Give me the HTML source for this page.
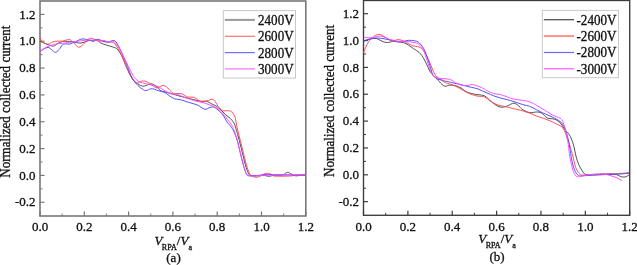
<!DOCTYPE html>
<html><head><meta charset="utf-8"><style>html,body{margin:0;padding:0;background:#fff;width:637px;height:265px;overflow:hidden}svg{display:block;filter:blur(0.35px)}</style></head><body>
<svg width="637" height="265" viewBox="0 0 637 265">
<style>text{stroke:#111;stroke-width:0.3px}.t{font-family:"Liberation Serif",serif;font-size:13px;fill:#111}.l{font-family:"Liberation Serif",serif;font-size:13.1px;fill:#111}.yl{font-family:"Liberation Serif",serif;font-size:13.05px;fill:#111}.xl{font-family:"Liberation Serif",serif;font-size:13px;fill:#111}</style>
<rect width="637" height="265" fill="#fff"/>
<rect x="40" y="1" width="265.8" height="215.0" fill="none" stroke="#777" stroke-width="1.6"/>
<line x1="40" y1="202.23" x2="44.5" y2="202.23" stroke="#777" stroke-width="1.2"/>
<text transform="translate(35.50,206.33) scale(1,1.0)" text-anchor="end" class="t">-0.2</text>
<line x1="40" y1="175.40" x2="44.5" y2="175.40" stroke="#777" stroke-width="1.2"/>
<text transform="translate(35.50,179.50) scale(1,1.0)" text-anchor="end" class="t">0.0</text>
<line x1="40" y1="148.57" x2="44.5" y2="148.57" stroke="#777" stroke-width="1.2"/>
<text transform="translate(35.50,152.67) scale(1,1.0)" text-anchor="end" class="t">0.2</text>
<line x1="40" y1="121.74" x2="44.5" y2="121.74" stroke="#777" stroke-width="1.2"/>
<text transform="translate(35.50,125.84) scale(1,1.0)" text-anchor="end" class="t">0.4</text>
<line x1="40" y1="94.91" x2="44.5" y2="94.91" stroke="#777" stroke-width="1.2"/>
<text transform="translate(35.50,99.01) scale(1,1.0)" text-anchor="end" class="t">0.6</text>
<line x1="40" y1="68.08" x2="44.5" y2="68.08" stroke="#777" stroke-width="1.2"/>
<text transform="translate(35.50,72.18) scale(1,1.0)" text-anchor="end" class="t">0.8</text>
<line x1="40" y1="41.25" x2="44.5" y2="41.25" stroke="#777" stroke-width="1.2"/>
<text transform="translate(35.50,45.35) scale(1,1.0)" text-anchor="end" class="t">1.0</text>
<line x1="40" y1="14.42" x2="44.5" y2="14.42" stroke="#777" stroke-width="1.2"/>
<text transform="translate(35.50,18.52) scale(1,1.0)" text-anchor="end" class="t">1.2</text>
<line x1="40" y1="188.82" x2="42.5" y2="188.82" stroke="#777" stroke-width="1"/>
<line x1="40" y1="161.99" x2="42.5" y2="161.99" stroke="#777" stroke-width="1"/>
<line x1="40" y1="135.16" x2="42.5" y2="135.16" stroke="#777" stroke-width="1"/>
<line x1="40" y1="108.33" x2="42.5" y2="108.33" stroke="#777" stroke-width="1"/>
<line x1="40" y1="81.50" x2="42.5" y2="81.50" stroke="#777" stroke-width="1"/>
<line x1="40" y1="54.67" x2="42.5" y2="54.67" stroke="#777" stroke-width="1"/>
<line x1="40" y1="27.84" x2="42.5" y2="27.84" stroke="#777" stroke-width="1"/>
<line x1="40.00" y1="216.0" x2="40.00" y2="211.5" stroke="#777" stroke-width="1.2"/>
<text transform="translate(40.00,231.30) scale(1,1.0)" text-anchor="middle" class="t">0.0</text>
<line x1="84.30" y1="216.0" x2="84.30" y2="211.5" stroke="#777" stroke-width="1.2"/>
<text transform="translate(84.30,231.30) scale(1,1.0)" text-anchor="middle" class="t">0.2</text>
<line x1="128.60" y1="216.0" x2="128.60" y2="211.5" stroke="#777" stroke-width="1.2"/>
<text transform="translate(128.60,231.30) scale(1,1.0)" text-anchor="middle" class="t">0.4</text>
<line x1="172.90" y1="216.0" x2="172.90" y2="211.5" stroke="#777" stroke-width="1.2"/>
<text transform="translate(172.90,231.30) scale(1,1.0)" text-anchor="middle" class="t">0.6</text>
<line x1="217.20" y1="216.0" x2="217.20" y2="211.5" stroke="#777" stroke-width="1.2"/>
<text transform="translate(217.20,231.30) scale(1,1.0)" text-anchor="middle" class="t">0.8</text>
<line x1="261.50" y1="216.0" x2="261.50" y2="211.5" stroke="#777" stroke-width="1.2"/>
<text transform="translate(261.50,231.30) scale(1,1.0)" text-anchor="middle" class="t">1.0</text>
<line x1="305.80" y1="216.0" x2="305.80" y2="211.5" stroke="#777" stroke-width="1.2"/>
<text transform="translate(305.80,231.30) scale(1,1.0)" text-anchor="middle" class="t">1.2</text>
<line x1="62.15" y1="216.0" x2="62.15" y2="213.5" stroke="#777" stroke-width="1"/>
<line x1="106.45" y1="216.0" x2="106.45" y2="213.5" stroke="#777" stroke-width="1"/>
<line x1="150.75" y1="216.0" x2="150.75" y2="213.5" stroke="#777" stroke-width="1"/>
<line x1="195.05" y1="216.0" x2="195.05" y2="213.5" stroke="#777" stroke-width="1"/>
<line x1="239.35" y1="216.0" x2="239.35" y2="213.5" stroke="#777" stroke-width="1"/>
<line x1="283.65" y1="216.0" x2="283.65" y2="213.5" stroke="#777" stroke-width="1"/>
<clipPath id="c1"><rect x="39.4" y="1" width="266.40000000000003" height="215.0"/></clipPath>
<g clip-path="url(#c1)" fill="none" stroke-width="0.95" stroke-linejoin="round">
<path d="M40.00,41.10 C40.58,41.40 42.15,42.30 43.50,42.90 C44.85,43.50 46.43,44.17 48.10,44.70 C49.77,45.23 51.85,46.33 53.50,46.10 C55.15,45.87 56.48,44.07 58.00,43.30 C59.52,42.53 61.27,41.83 62.60,41.50 C63.93,41.17 64.22,41.25 66.00,41.30 C67.78,41.35 71.03,41.50 73.30,41.80 C75.57,42.10 77.80,43.03 79.60,43.10 C81.40,43.17 82.43,42.65 84.10,42.20 C85.77,41.75 88.08,40.55 89.60,40.40 C91.12,40.25 92.00,41.33 93.20,41.30 C94.40,41.27 95.62,39.95 96.80,40.20 C97.98,40.45 98.72,42.00 100.30,42.80 C101.88,43.60 104.05,44.25 106.30,45.00 C108.55,45.75 112.03,46.67 113.80,47.30 C115.57,47.93 115.95,48.02 116.90,48.80 C117.85,49.58 118.57,50.55 119.50,52.00 C120.43,53.45 121.37,55.07 122.50,57.50 C123.63,59.93 125.03,63.70 126.30,66.60 C127.57,69.50 128.83,72.52 130.10,74.90 C131.37,77.28 132.73,79.50 133.90,80.90 C135.07,82.30 135.97,82.52 137.10,83.30 C138.23,84.08 139.50,85.13 140.70,85.60 C141.90,86.07 143.10,86.25 144.30,86.10 C145.50,85.95 146.68,85.08 147.90,84.70 C149.12,84.32 150.53,83.73 151.60,83.80 C152.67,83.87 153.23,84.47 154.30,85.10 C155.37,85.73 156.97,86.68 158.00,87.60 C159.03,88.52 159.33,89.88 160.50,90.60 C161.67,91.32 163.20,91.42 165.00,91.90 C166.80,92.38 169.18,92.88 171.30,93.50 C173.42,94.12 175.58,94.98 177.70,95.60 C179.82,96.22 181.90,96.67 184.00,97.20 C186.10,97.73 188.18,98.27 190.30,98.80 C192.42,99.33 194.93,100.00 196.70,100.40 C198.47,100.80 199.22,101.03 200.90,101.20 C202.58,101.37 204.95,100.92 206.80,101.40 C208.65,101.88 210.37,103.28 212.00,104.10 C213.63,104.92 215.08,105.30 216.60,106.30 C218.12,107.30 219.60,108.72 221.10,110.10 C222.60,111.48 224.08,113.22 225.60,114.60 C227.12,115.98 228.82,117.02 230.20,118.40 C231.58,119.78 232.97,121.30 233.90,122.90 C234.83,124.50 234.92,125.12 235.80,128.00 C236.68,130.88 238.12,136.12 239.20,140.20 C240.28,144.28 241.28,148.42 242.30,152.50 C243.32,156.58 244.28,161.23 245.30,164.70 C246.32,168.17 247.55,171.53 248.40,173.30 C249.25,175.07 249.30,174.93 250.40,175.30 C251.50,175.67 253.07,175.52 255.00,175.50 C256.93,175.48 260.17,175.15 262.00,175.20 C263.83,175.25 264.75,175.62 266.00,175.80 C267.25,175.98 268.33,176.35 269.50,176.30 C270.67,176.25 271.25,175.68 273.00,175.50 C274.75,175.32 278.25,175.35 280.00,175.20 C281.75,175.05 282.27,175.07 283.50,174.60 C284.73,174.13 286.07,172.50 287.40,172.40 C288.73,172.30 290.13,173.42 291.50,174.00 C292.87,174.58 294.18,175.68 295.60,175.90 C297.02,176.12 298.43,175.43 300.00,175.30 C301.57,175.17 304.17,175.13 305.00,175.10" stroke="#4a4a4a"/>
<path d="M40.00,37.00 C40.22,37.60 40.72,39.70 41.30,40.60 C41.88,41.50 42.37,41.80 43.50,42.40 C44.63,43.00 46.58,44.27 48.10,44.20 C49.62,44.13 51.10,42.52 52.60,42.00 C54.10,41.48 55.43,41.25 57.10,41.10 C58.77,40.95 60.67,41.37 62.60,41.10 C64.53,40.83 67.08,39.47 68.70,39.50 C70.32,39.53 71.08,40.32 72.30,41.30 C73.52,42.28 74.87,44.42 76.00,45.40 C77.13,46.38 77.90,47.35 79.10,47.20 C80.30,47.05 81.75,45.78 83.20,44.50 C84.65,43.22 86.58,40.53 87.80,39.50 C89.02,38.47 89.45,38.37 90.50,38.30 C91.55,38.23 92.90,38.67 94.10,39.10 C95.30,39.53 96.55,40.55 97.70,40.90 C98.85,41.25 99.95,41.20 101.00,41.20 C102.05,41.20 102.73,40.70 104.00,40.90 C105.27,41.10 107.33,42.22 108.60,42.40 C109.87,42.58 110.60,41.80 111.60,42.00 C112.60,42.20 113.35,42.22 114.60,43.60 C115.85,44.98 117.78,47.98 119.10,50.30 C120.42,52.62 121.30,54.78 122.50,57.50 C123.70,60.22 125.03,63.70 126.30,66.60 C127.57,69.50 128.90,72.67 130.10,74.90 C131.30,77.13 132.33,78.63 133.50,80.00 C134.67,81.37 135.90,82.85 137.10,83.10 C138.30,83.35 139.50,81.87 140.70,81.50 C141.90,81.13 143.10,80.75 144.30,80.90 C145.50,81.05 146.53,81.62 147.90,82.40 C149.27,83.18 150.93,84.70 152.50,85.60 C154.07,86.50 155.48,87.83 157.30,87.80 C159.12,87.77 161.42,85.15 163.40,85.40 C165.38,85.65 167.53,87.95 169.20,89.30 C170.87,90.65 171.47,92.80 173.40,93.50 C175.33,94.20 178.87,93.15 180.80,93.50 C182.73,93.85 183.77,94.98 185.00,95.60 C186.23,96.22 186.78,96.93 188.20,97.20 C189.62,97.47 191.92,96.77 193.50,97.20 C195.08,97.63 196.47,99.08 197.70,99.80 C198.93,100.52 199.68,101.25 200.90,101.50 C202.12,101.75 203.73,101.47 205.00,101.30 C206.27,101.13 207.45,100.85 208.50,100.50 C209.55,100.15 210.33,99.23 211.30,99.20 C212.27,99.17 213.17,99.12 214.30,100.30 C215.43,101.48 216.72,104.58 218.10,106.30 C219.48,108.02 221.08,109.87 222.60,110.60 C224.12,111.33 225.82,110.58 227.20,110.70 C228.58,110.82 229.65,110.40 230.90,111.30 C232.15,112.20 233.65,113.32 234.70,116.10 C235.75,118.88 236.28,123.98 237.20,128.00 C238.12,132.02 239.18,136.12 240.20,140.20 C241.22,144.28 242.27,148.42 243.30,152.50 C244.33,156.58 245.38,161.23 246.40,164.70 C247.42,168.17 248.55,171.50 249.40,173.30 C250.25,175.10 250.38,174.83 251.50,175.50 C252.62,176.17 254.52,177.25 256.10,177.30 C257.68,177.35 259.58,176.38 261.00,175.80 C262.42,175.22 263.52,174.22 264.60,173.80 C265.68,173.38 266.43,173.22 267.50,173.30 C268.57,173.38 269.92,173.85 271.00,174.30 C272.08,174.75 272.17,175.68 274.00,176.00 C275.83,176.32 279.33,176.20 282.00,176.20 C284.67,176.20 287.40,176.17 290.00,176.00 C292.60,175.83 295.10,175.37 297.60,175.20 C300.10,175.03 303.77,175.03 305.00,175.00" stroke="#ff4852"/>
<path d="M40.00,51.50 C40.58,51.12 42.15,49.88 43.50,49.20 C44.85,48.52 46.73,47.32 48.10,47.40 C49.47,47.48 50.50,48.87 51.70,49.70 C52.90,50.53 54.08,52.40 55.30,52.40 C56.52,52.40 57.78,50.98 59.00,49.70 C60.22,48.42 61.40,45.67 62.60,44.70 C63.80,43.73 65.03,44.00 66.20,43.90 C67.37,43.80 68.12,44.45 69.60,44.10 C71.08,43.75 73.13,42.63 75.10,41.80 C77.07,40.97 79.43,39.48 81.40,39.10 C83.37,38.72 85.08,39.20 86.90,39.50 C88.72,39.80 90.80,40.90 92.30,40.90 C93.80,40.90 94.70,39.72 95.90,39.50 C97.10,39.28 98.15,39.23 99.50,39.60 C100.85,39.97 102.48,41.30 104.00,41.70 C105.52,42.10 107.08,42.20 108.60,42.00 C110.12,41.80 111.85,40.50 113.10,40.50 C114.35,40.50 114.97,40.62 116.10,42.00 C117.23,43.38 118.65,46.30 119.90,48.80 C121.15,51.30 122.32,54.03 123.60,57.00 C124.88,59.97 126.37,63.52 127.60,66.60 C128.83,69.68 129.93,73.10 131.00,75.50 C132.07,77.90 132.83,79.32 134.00,81.00 C135.17,82.68 136.58,84.23 138.00,85.60 C139.42,86.97 141.15,88.37 142.50,89.20 C143.85,90.03 144.73,90.67 146.10,90.60 C147.47,90.53 149.33,89.03 150.70,88.80 C152.07,88.57 153.08,88.90 154.30,89.20 C155.52,89.50 156.73,90.20 158.00,90.60 C159.27,91.00 160.73,91.27 161.90,91.60 C163.07,91.93 163.78,91.93 165.00,92.60 C166.22,93.27 167.62,94.57 169.20,95.60 C170.78,96.63 172.57,98.10 174.50,98.80 C176.43,99.50 178.68,99.28 180.80,99.80 C182.92,100.32 184.90,101.18 187.20,101.90 C189.50,102.62 192.67,103.48 194.60,104.10 C196.53,104.72 197.40,104.85 198.80,105.60 C200.20,106.35 201.80,107.98 203.00,108.60 C204.20,109.22 205.00,109.43 206.00,109.30 C207.00,109.17 207.73,108.17 209.00,107.80 C210.27,107.43 212.08,106.72 213.60,107.10 C215.12,107.48 216.60,108.85 218.10,110.10 C219.60,111.35 221.08,112.58 222.60,114.60 C224.12,116.62 225.82,120.18 227.20,122.20 C228.58,124.22 229.83,125.23 230.90,126.70 C231.97,128.17 232.55,128.75 233.60,131.00 C234.65,133.25 236.10,136.62 237.20,140.20 C238.30,143.78 239.18,148.42 240.20,152.50 C241.22,156.58 242.27,161.13 243.30,164.70 C244.33,168.27 245.38,172.05 246.40,173.90 C247.42,175.75 247.47,175.48 249.40,175.80 C251.33,176.12 255.40,176.00 258.00,175.80 C260.60,175.60 263.00,174.80 265.00,174.60 C267.00,174.40 267.17,174.55 270.00,174.60 C272.83,174.65 276.17,174.85 282.00,174.90 C287.83,174.95 301.17,174.90 305.00,174.90" stroke="#4848ff"/>
<path d="M40.00,51.00 C40.73,50.55 42.75,49.20 44.40,48.30 C46.05,47.40 47.78,46.35 49.90,45.60 C52.02,44.85 54.98,44.18 57.10,43.80 C59.22,43.42 60.62,43.53 62.60,43.30 C64.58,43.07 67.22,42.65 69.00,42.40 C70.78,42.15 71.38,42.05 73.30,41.80 C75.22,41.55 78.08,41.20 80.50,40.90 C82.92,40.60 85.53,40.12 87.80,40.00 C90.07,39.88 92.15,40.12 94.10,40.20 C96.05,40.28 97.85,40.45 99.50,40.50 C101.15,40.55 102.48,40.25 104.00,40.50 C105.52,40.75 107.22,41.87 108.60,42.00 C109.98,42.13 111.18,41.17 112.30,41.30 C113.42,41.43 113.97,41.35 115.30,42.80 C116.63,44.25 118.85,47.55 120.30,50.00 C121.75,52.45 122.62,54.73 124.00,57.50 C125.38,60.27 127.22,63.83 128.60,66.60 C129.98,69.37 131.35,72.30 132.30,74.10 C133.25,75.90 133.35,76.23 134.30,77.40 C135.25,78.57 136.63,80.18 138.00,81.10 C139.37,82.02 140.85,82.38 142.50,82.90 C144.15,83.42 146.08,83.75 147.90,84.20 C149.72,84.65 151.72,85.22 153.40,85.60 C155.08,85.98 156.07,85.62 158.00,86.50 C159.93,87.38 162.78,89.65 165.00,90.90 C167.22,92.15 169.18,93.40 171.30,94.00 C173.42,94.60 175.58,93.97 177.70,94.50 C179.82,95.03 181.90,96.40 184.00,97.20 C186.10,98.00 188.18,98.60 190.30,99.30 C192.42,100.00 194.58,100.87 196.70,101.40 C198.82,101.93 200.95,101.93 203.00,102.50 C205.05,103.07 206.98,104.03 209.00,104.80 C211.02,105.57 213.08,105.97 215.10,107.10 C217.12,108.23 219.08,109.58 221.10,111.60 C223.12,113.62 225.43,116.93 227.20,119.20 C228.97,121.47 230.58,123.40 231.70,125.20 C232.82,127.00 232.98,127.50 233.90,130.00 C234.82,132.50 236.15,136.45 237.20,140.20 C238.25,143.95 239.18,148.42 240.20,152.50 C241.22,156.58 242.27,161.13 243.30,164.70 C244.33,168.27 245.38,172.05 246.40,173.90 C247.42,175.75 247.47,175.52 249.40,175.80 C251.33,176.08 254.57,175.70 258.00,175.60 C261.43,175.50 266.00,175.32 270.00,175.20 C274.00,175.08 276.17,174.95 282.00,174.90 C287.83,174.85 301.17,174.90 305.00,174.90" stroke="#ff48ff"/>
</g>
<rect x="223.3" y="10.6" width="72.2" height="67.4" fill="#fff" stroke="#c8c8c8" stroke-width="1"/>
<line x1="224.8" y1="19.9" x2="254.9" y2="19.9" stroke="#9a9a9a" stroke-width="2"/>
<text transform="translate(258,24.80) scale(1,1.04)" class="l">2400V</text>
<line x1="224.8" y1="36.3" x2="254.9" y2="36.3" stroke="#ff7070" stroke-width="1.2"/>
<text transform="translate(258,41.20) scale(1,1.04)" class="l">2600V</text>
<line x1="224.8" y1="52.6" x2="254.9" y2="52.6" stroke="#7070ff" stroke-width="1.2"/>
<text transform="translate(258,57.50) scale(1,1.04)" class="l">2800V</text>
<line x1="224.8" y1="68.9" x2="254.9" y2="68.9" stroke="#ff90ff" stroke-width="1.6"/>
<text transform="translate(258,73.80) scale(1,1.04)" class="l">3000V</text>
<text class="yl" transform="translate(9.8,101.7) rotate(-90) scale(1,1.15)" text-anchor="middle">Normalized collected current</text>
<text class="xl" transform="translate(154.5,244.5) scale(1,1.0)"><tspan font-style="italic">V</tspan><tspan font-size="8.1" dx="-0.6" dy="5">RPA</tspan><tspan dy="-5">/</tspan><tspan font-style="italic">V</tspan><tspan font-size="8.1" dy="5">a</tspan></text>
<text class="xl" transform="translate(173.5,262.2) scale(1,1.02)" text-anchor="middle" font-size="12.2">(a)</text>
<rect x="363.5" y="0.5" width="266.20000000000005" height="214.8" fill="none" stroke="#3c3c3c" stroke-width="1.35"/>
<line x1="363.5" y1="201.65" x2="368.0" y2="201.65" stroke="#3c3c3c" stroke-width="1.2"/>
<text transform="translate(359.00,205.75) scale(1,1.0)" text-anchor="end" class="t">-0.2</text>
<line x1="363.5" y1="174.80" x2="368.0" y2="174.80" stroke="#3c3c3c" stroke-width="1.2"/>
<text transform="translate(359.00,178.90) scale(1,1.0)" text-anchor="end" class="t">0.0</text>
<line x1="363.5" y1="147.95" x2="368.0" y2="147.95" stroke="#3c3c3c" stroke-width="1.2"/>
<text transform="translate(359.00,152.05) scale(1,1.0)" text-anchor="end" class="t">0.2</text>
<line x1="363.5" y1="121.10" x2="368.0" y2="121.10" stroke="#3c3c3c" stroke-width="1.2"/>
<text transform="translate(359.00,125.20) scale(1,1.0)" text-anchor="end" class="t">0.4</text>
<line x1="363.5" y1="94.25" x2="368.0" y2="94.25" stroke="#3c3c3c" stroke-width="1.2"/>
<text transform="translate(359.00,98.35) scale(1,1.0)" text-anchor="end" class="t">0.6</text>
<line x1="363.5" y1="67.40" x2="368.0" y2="67.40" stroke="#3c3c3c" stroke-width="1.2"/>
<text transform="translate(359.00,71.50) scale(1,1.0)" text-anchor="end" class="t">0.8</text>
<line x1="363.5" y1="40.55" x2="368.0" y2="40.55" stroke="#3c3c3c" stroke-width="1.2"/>
<text transform="translate(359.00,44.65) scale(1,1.0)" text-anchor="end" class="t">1.0</text>
<line x1="363.5" y1="13.70" x2="368.0" y2="13.70" stroke="#3c3c3c" stroke-width="1.2"/>
<text transform="translate(359.00,17.80) scale(1,1.0)" text-anchor="end" class="t">1.2</text>
<line x1="363.5" y1="188.22" x2="366.0" y2="188.22" stroke="#3c3c3c" stroke-width="1"/>
<line x1="363.5" y1="161.38" x2="366.0" y2="161.38" stroke="#3c3c3c" stroke-width="1"/>
<line x1="363.5" y1="134.53" x2="366.0" y2="134.53" stroke="#3c3c3c" stroke-width="1"/>
<line x1="363.5" y1="107.68" x2="366.0" y2="107.68" stroke="#3c3c3c" stroke-width="1"/>
<line x1="363.5" y1="80.83" x2="366.0" y2="80.83" stroke="#3c3c3c" stroke-width="1"/>
<line x1="363.5" y1="53.98" x2="366.0" y2="53.98" stroke="#3c3c3c" stroke-width="1"/>
<line x1="363.5" y1="27.13" x2="366.0" y2="27.13" stroke="#3c3c3c" stroke-width="1"/>
<line x1="363.50" y1="215.3" x2="363.50" y2="210.8" stroke="#3c3c3c" stroke-width="1.2"/>
<text transform="translate(363.50,231.10) scale(1,1.0)" text-anchor="middle" class="t">0.0</text>
<line x1="407.87" y1="215.3" x2="407.87" y2="210.8" stroke="#3c3c3c" stroke-width="1.2"/>
<text transform="translate(407.87,231.10) scale(1,1.0)" text-anchor="middle" class="t">0.2</text>
<line x1="452.23" y1="215.3" x2="452.23" y2="210.8" stroke="#3c3c3c" stroke-width="1.2"/>
<text transform="translate(452.23,231.10) scale(1,1.0)" text-anchor="middle" class="t">0.4</text>
<line x1="496.60" y1="215.3" x2="496.60" y2="210.8" stroke="#3c3c3c" stroke-width="1.2"/>
<text transform="translate(496.60,231.10) scale(1,1.0)" text-anchor="middle" class="t">0.6</text>
<line x1="540.97" y1="215.3" x2="540.97" y2="210.8" stroke="#3c3c3c" stroke-width="1.2"/>
<text transform="translate(540.97,231.10) scale(1,1.0)" text-anchor="middle" class="t">0.8</text>
<line x1="585.33" y1="215.3" x2="585.33" y2="210.8" stroke="#3c3c3c" stroke-width="1.2"/>
<text transform="translate(585.33,231.10) scale(1,1.0)" text-anchor="middle" class="t">1.0</text>
<line x1="629.70" y1="215.3" x2="629.70" y2="210.8" stroke="#3c3c3c" stroke-width="1.2"/>
<text transform="translate(629.70,231.10) scale(1,1.0)" text-anchor="middle" class="t">1.2</text>
<line x1="385.68" y1="215.3" x2="385.68" y2="212.8" stroke="#3c3c3c" stroke-width="1"/>
<line x1="430.05" y1="215.3" x2="430.05" y2="212.8" stroke="#3c3c3c" stroke-width="1"/>
<line x1="474.42" y1="215.3" x2="474.42" y2="212.8" stroke="#3c3c3c" stroke-width="1"/>
<line x1="518.78" y1="215.3" x2="518.78" y2="212.8" stroke="#3c3c3c" stroke-width="1"/>
<line x1="563.15" y1="215.3" x2="563.15" y2="212.8" stroke="#3c3c3c" stroke-width="1"/>
<line x1="607.52" y1="215.3" x2="607.52" y2="212.8" stroke="#3c3c3c" stroke-width="1"/>
<clipPath id="c2"><rect x="362.9" y="0.5" width="266.80000000000007" height="214.8"/></clipPath>
<g clip-path="url(#c2)" fill="none" stroke-width="0.95" stroke-linejoin="round">
<path d="M363.60,41.20 C364.22,40.93 365.80,40.03 367.30,39.60 C368.80,39.17 371.02,38.77 372.60,38.60 C374.18,38.43 375.40,38.25 376.80,38.60 C378.20,38.95 379.60,40.08 381.00,40.70 C382.40,41.32 383.78,42.03 385.20,42.30 C386.62,42.57 388.22,42.47 389.50,42.30 C390.78,42.13 391.52,41.38 392.90,41.30 C394.28,41.22 396.00,41.57 397.80,41.80 C399.60,42.03 401.90,42.13 403.70,42.70 C405.50,43.27 406.97,44.22 408.60,45.20 C410.23,46.18 412.17,47.72 413.50,48.60 C414.83,49.48 415.63,49.83 416.60,50.50 C417.57,51.17 418.43,51.77 419.30,52.60 C420.17,53.43 420.93,54.27 421.80,55.50 C422.67,56.73 423.63,58.42 424.50,60.00 C425.37,61.58 426.22,63.33 427.00,65.00 C427.78,66.67 428.45,68.58 429.20,70.00 C429.95,71.42 430.43,72.17 431.50,73.50 C432.57,74.83 434.42,76.82 435.60,78.00 C436.78,79.18 437.78,79.77 438.60,80.60 C439.42,81.43 439.67,82.15 440.50,83.00 C441.33,83.85 442.65,85.17 443.60,85.70 C444.55,86.23 445.23,86.30 446.20,86.20 C447.17,86.10 447.88,85.20 449.40,85.10 C450.92,85.00 453.37,85.13 455.30,85.60 C457.23,86.07 459.30,86.95 461.00,87.90 C462.70,88.85 463.80,90.37 465.50,91.30 C467.20,92.23 469.12,92.93 471.20,93.50 C473.28,94.07 475.78,94.32 478.00,94.70 C480.22,95.08 482.65,94.97 484.50,95.80 C486.35,96.63 487.40,98.28 489.10,99.70 C490.80,101.12 492.82,103.07 494.70,104.30 C496.58,105.53 498.50,106.73 500.40,107.10 C502.30,107.47 504.40,106.97 506.10,106.50 C507.80,106.03 509.28,104.87 510.60,104.30 C511.92,103.73 512.87,103.02 514.00,103.10 C515.13,103.18 516.40,104.12 517.40,104.80 C518.40,105.48 519.10,106.38 520.00,107.20 C520.90,108.02 521.20,108.80 522.80,109.70 C524.40,110.60 527.33,112.22 529.60,112.60 C531.87,112.98 534.52,112.00 536.40,112.00 C538.28,112.00 539.58,112.03 540.90,112.60 C542.22,113.17 543.17,114.47 544.30,115.40 C545.43,116.33 546.37,117.63 547.70,118.20 C549.03,118.77 550.87,118.52 552.30,118.80 C553.73,119.08 554.83,119.05 556.30,119.90 C557.77,120.75 559.63,122.18 561.10,123.90 C562.57,125.62 563.78,128.48 565.10,130.20 C566.42,131.92 567.95,132.73 569.00,134.20 C570.05,135.67 570.60,137.02 571.40,139.00 C572.20,140.98 573.03,143.23 573.80,146.10 C574.57,148.97 575.18,153.13 576.00,156.20 C576.82,159.27 577.67,162.07 578.70,164.50 C579.73,166.93 581.15,169.17 582.20,170.80 C583.25,172.43 583.95,173.60 585.00,174.30 C586.05,175.00 587.30,174.88 588.50,175.00 C589.70,175.12 590.22,175.03 592.20,175.00 C594.18,174.97 596.98,174.93 600.40,174.80 C603.82,174.67 609.83,174.17 612.70,174.20 C615.57,174.23 616.25,174.60 617.60,175.00 C618.95,175.40 619.58,176.27 620.80,176.60 C622.02,176.93 623.53,177.27 624.90,177.00 C626.27,176.73 628.32,175.33 629.00,175.00" stroke="#4a4a4a"/>
<path d="M363.60,52.80 C364.03,51.67 365.23,48.02 366.20,46.00 C367.17,43.98 368.33,42.12 369.40,40.70 C370.47,39.28 371.55,38.42 372.60,37.50 C373.65,36.58 374.65,35.73 375.70,35.20 C376.75,34.67 377.83,34.27 378.90,34.30 C379.97,34.33 380.87,34.78 382.10,35.40 C383.33,36.02 385.07,37.22 386.30,38.00 C387.53,38.78 388.40,39.63 389.50,40.10 C390.60,40.57 391.52,40.88 392.90,40.80 C394.28,40.72 396.33,39.68 397.80,39.60 C399.27,39.52 400.40,39.85 401.70,40.30 C403.00,40.75 404.13,41.57 405.60,42.30 C407.07,43.03 409.10,44.05 410.50,44.70 C411.90,45.35 412.88,45.88 414.00,46.20 C415.12,46.52 416.15,46.37 417.20,46.60 C418.25,46.83 419.42,47.13 420.30,47.60 C421.18,48.07 421.88,48.75 422.50,49.40 C423.12,50.05 423.48,50.68 424.00,51.50 C424.52,52.32 425.05,53.38 425.60,54.30 C426.15,55.22 426.65,55.72 427.30,57.00 C427.95,58.28 428.85,60.50 429.50,62.00 C430.15,63.50 430.65,64.67 431.20,66.00 C431.75,67.33 432.28,68.80 432.80,70.00 C433.32,71.20 433.78,72.23 434.30,73.20 C434.82,74.17 435.28,75.02 435.90,75.80 C436.52,76.58 437.28,77.28 438.00,77.90 C438.72,78.52 439.53,79.05 440.20,79.50 C440.87,79.95 440.82,79.95 442.00,80.60 C443.18,81.25 445.63,82.73 447.30,83.40 C448.97,84.07 450.67,84.13 452.00,84.60 C453.33,85.07 453.80,85.47 455.30,86.20 C456.80,86.93 459.10,87.97 461.00,89.00 C462.90,90.03 464.82,91.45 466.70,92.40 C468.58,93.35 470.42,94.07 472.30,94.70 C474.18,95.33 475.97,95.83 478.00,96.20 C480.03,96.57 482.47,96.12 484.50,96.90 C486.53,97.68 488.12,99.58 490.20,100.90 C492.28,102.22 494.55,103.87 497.00,104.80 C499.45,105.73 502.45,105.93 504.90,106.50 C507.35,107.07 509.85,107.75 511.70,108.20 C513.55,108.65 514.15,108.75 516.00,109.20 C517.85,109.65 520.53,110.25 522.80,110.90 C525.07,111.55 527.33,112.25 529.60,113.10 C531.87,113.95 534.13,115.15 536.40,116.00 C538.67,116.85 540.93,117.40 543.20,118.20 C545.47,119.00 547.82,119.85 550.00,120.80 C552.18,121.75 554.45,122.98 556.30,123.90 C558.15,124.82 559.77,125.25 561.10,126.30 C562.43,127.35 563.37,128.48 564.30,130.20 C565.23,131.92 565.83,134.22 566.70,136.60 C567.57,138.98 568.47,141.23 569.50,144.50 C570.53,147.77 571.95,152.63 572.90,156.20 C573.85,159.77 574.35,163.23 575.20,165.90 C576.05,168.57 576.95,170.68 578.00,172.20 C579.05,173.72 580.45,174.53 581.50,175.00 C582.55,175.47 583.18,175.03 584.30,175.00 C585.42,174.97 585.52,174.97 588.20,174.80 C590.88,174.63 596.32,174.17 600.40,174.00 C604.48,173.83 609.03,173.92 612.70,173.80 C616.37,173.68 619.68,173.53 622.40,173.30 C625.12,173.07 627.90,172.55 629.00,172.40" stroke="#ff4852"/>
<path d="M363.60,41.20 C364.22,41.02 365.80,40.58 367.30,40.10 C368.80,39.62 370.85,38.65 372.60,38.30 C374.35,37.95 376.05,37.95 377.80,38.00 C379.55,38.05 381.33,38.33 383.10,38.60 C384.87,38.87 386.77,39.32 388.40,39.60 C390.03,39.88 391.33,39.93 392.90,40.30 C394.47,40.67 396.00,41.63 397.80,41.80 C399.60,41.97 401.90,41.55 403.70,41.30 C405.50,41.05 406.80,40.38 408.60,40.30 C410.40,40.22 412.90,40.52 414.50,40.80 C416.10,41.08 417.13,41.37 418.20,42.00 C419.27,42.63 420.02,43.55 420.90,44.60 C421.78,45.65 422.75,47.07 423.50,48.30 C424.25,49.53 424.87,50.72 425.40,52.00 C425.93,53.28 426.18,54.50 426.70,56.00 C427.22,57.50 427.95,59.33 428.50,61.00 C429.05,62.67 429.55,64.50 430.00,66.00 C430.45,67.50 430.73,68.53 431.20,70.00 C431.67,71.47 432.10,73.57 432.80,74.80 C433.50,76.03 434.53,76.67 435.40,77.40 C436.27,78.13 436.90,78.77 438.00,79.20 C439.10,79.63 440.98,79.72 442.00,80.00 C443.02,80.28 442.87,80.57 444.10,80.90 C445.33,81.23 448.08,81.70 449.40,82.00 C450.72,82.30 450.63,82.38 452.00,82.70 C453.37,83.02 455.53,83.42 457.60,83.90 C459.67,84.38 462.13,85.03 464.40,85.60 C466.67,86.17 468.93,86.73 471.20,87.30 C473.47,87.87 475.40,88.07 478.00,89.00 C480.60,89.93 484.20,91.77 486.80,92.90 C489.40,94.03 491.33,94.95 493.60,95.80 C495.87,96.65 498.13,97.35 500.40,98.00 C502.67,98.65 504.93,99.10 507.20,99.70 C509.47,100.30 511.40,100.78 514.00,101.60 C516.60,102.42 520.20,103.82 522.80,104.60 C525.40,105.38 527.33,105.45 529.60,106.30 C531.87,107.15 534.13,108.57 536.40,109.70 C538.67,110.83 540.93,112.05 543.20,113.10 C545.47,114.15 547.82,115.00 550.00,116.00 C552.18,117.00 554.45,118.05 556.30,119.10 C558.15,120.15 559.77,120.98 561.10,122.30 C562.43,123.62 563.37,125.15 564.30,127.00 C565.23,128.85 566.03,131.28 566.70,133.40 C567.37,135.52 567.83,137.60 568.30,139.70 C568.77,141.80 569.03,143.25 569.50,146.00 C569.97,148.75 570.48,152.88 571.10,156.20 C571.72,159.52 572.38,163.12 573.20,165.90 C574.02,168.68 575.08,171.32 576.00,172.90 C576.92,174.48 577.78,174.88 578.70,175.40 C579.62,175.92 579.25,176.07 581.50,176.00 C583.75,175.93 588.37,175.30 592.20,175.00 C596.03,174.70 600.42,174.33 604.50,174.20 C608.58,174.07 612.62,174.35 616.70,174.20 C620.78,174.05 626.95,173.45 629.00,173.30" stroke="#4848ff"/>
<path d="M363.60,37.30 C364.38,37.37 366.80,37.63 368.30,37.70 C369.80,37.77 371.18,37.92 372.60,37.70 C374.02,37.48 375.40,36.67 376.80,36.40 C378.20,36.13 379.60,35.92 381.00,36.10 C382.40,36.28 383.78,36.95 385.20,37.50 C386.62,38.05 388.22,38.93 389.50,39.40 C390.78,39.87 391.52,39.98 392.90,40.30 C394.28,40.62 396.00,41.13 397.80,41.30 C399.60,41.47 401.73,41.22 403.70,41.30 C405.67,41.38 407.88,41.60 409.60,41.80 C411.32,42.00 412.73,42.25 414.00,42.50 C415.27,42.75 416.23,42.85 417.20,43.30 C418.17,43.75 418.92,44.37 419.80,45.20 C420.68,46.03 421.75,47.17 422.50,48.30 C423.25,49.43 423.82,50.80 424.30,52.00 C424.78,53.20 424.95,54.17 425.40,55.50 C425.85,56.83 426.47,58.42 427.00,60.00 C427.53,61.58 428.08,63.33 428.60,65.00 C429.12,66.67 429.50,68.47 430.10,70.00 C430.70,71.53 431.40,73.05 432.20,74.20 C433.00,75.35 434.02,76.28 434.90,76.90 C435.78,77.52 436.32,77.63 437.50,77.90 C438.68,78.17 440.73,78.35 442.00,78.50 C443.27,78.65 443.87,78.67 445.10,78.80 C446.33,78.93 448.25,79.03 449.40,79.30 C450.55,79.57 451.02,79.85 452.00,80.40 C452.98,80.95 453.80,81.83 455.30,82.60 C456.80,83.37 459.10,84.50 461.00,85.00 C462.90,85.50 464.82,85.68 466.70,85.60 C468.58,85.52 470.42,84.40 472.30,84.50 C474.18,84.60 476.05,85.48 478.00,86.20 C479.95,86.92 482.53,88.05 484.00,88.80 C485.47,89.55 485.20,89.92 486.80,90.70 C488.40,91.48 491.33,92.85 493.60,93.50 C495.87,94.15 498.13,94.03 500.40,94.60 C502.67,95.17 504.93,96.13 507.20,96.90 C509.47,97.67 511.40,98.62 514.00,99.20 C516.60,99.78 520.20,99.97 522.80,100.40 C525.40,100.83 527.52,101.10 529.60,101.80 C531.68,102.50 533.42,103.57 535.30,104.60 C537.18,105.63 538.83,106.77 540.90,108.00 C542.97,109.23 545.85,110.87 547.70,112.00 C549.55,113.13 550.57,114.02 552.00,114.80 C553.43,115.58 554.92,116.12 556.30,116.70 C557.68,117.28 559.23,117.50 560.30,118.30 C561.37,119.10 561.90,119.78 562.70,121.50 C563.50,123.22 564.43,126.08 565.10,128.60 C565.77,131.12 566.17,133.95 566.70,136.60 C567.23,139.25 567.80,141.23 568.30,144.50 C568.80,147.77 569.12,152.63 569.70,156.20 C570.28,159.77 571.10,163.12 571.80,165.90 C572.50,168.68 573.20,171.22 573.90,172.90 C574.60,174.58 575.20,175.35 576.00,176.00 C576.80,176.65 577.87,176.78 578.70,176.80 C579.53,176.82 579.42,176.43 581.00,176.10 C582.58,175.77 585.65,175.12 588.20,174.80 C590.75,174.48 593.58,174.30 596.30,174.20 C599.02,174.10 602.05,173.93 604.50,174.20 C606.95,174.47 608.97,175.20 611.00,175.80 C613.03,176.40 614.87,176.98 616.70,177.80 C618.53,178.62 621.12,180.22 622.00,180.70" stroke="#ff48ff"/>
</g>
<rect x="542.3" y="10.4" width="76.2" height="67.3" fill="#fff" stroke="#c8c8c8" stroke-width="1"/>
<line x1="543.8" y1="19.7" x2="574" y2="19.7" stroke="#555" stroke-width="1.3"/>
<text transform="translate(576.5,24.60) scale(1,1.04)" class="l">-2400V</text>
<line x1="543.8" y1="36.1" x2="574" y2="36.1" stroke="#ff9090" stroke-width="2"/>
<text transform="translate(576.5,41.00) scale(1,1.04)" class="l">-2600V</text>
<line x1="543.8" y1="52.5" x2="574" y2="52.5" stroke="#6868ff" stroke-width="1.2"/>
<text transform="translate(576.5,57.40) scale(1,1.04)" class="l">-2800V</text>
<line x1="543.8" y1="68.8" x2="574" y2="68.8" stroke="#ff60ff" stroke-width="1.3"/>
<text transform="translate(576.5,73.70) scale(1,1.04)" class="l">-3000V</text>
<text class="yl" transform="translate(333.5,100.9) rotate(-90) scale(1,1.15)" text-anchor="middle">Normalized collected current</text>
<text class="xl" transform="translate(478.3,242.7) scale(1,1.0)"><tspan font-style="italic">V</tspan><tspan font-size="8.1" dx="-0.6" dy="5">RPA</tspan><tspan dy="-5">/</tspan><tspan font-style="italic">V</tspan><tspan font-size="8.1" dy="5">a</tspan></text>
<text class="xl" transform="translate(497,261.0) scale(1,1.02)" text-anchor="middle" font-size="12.2">(b)</text>
</svg>
</body></html>
